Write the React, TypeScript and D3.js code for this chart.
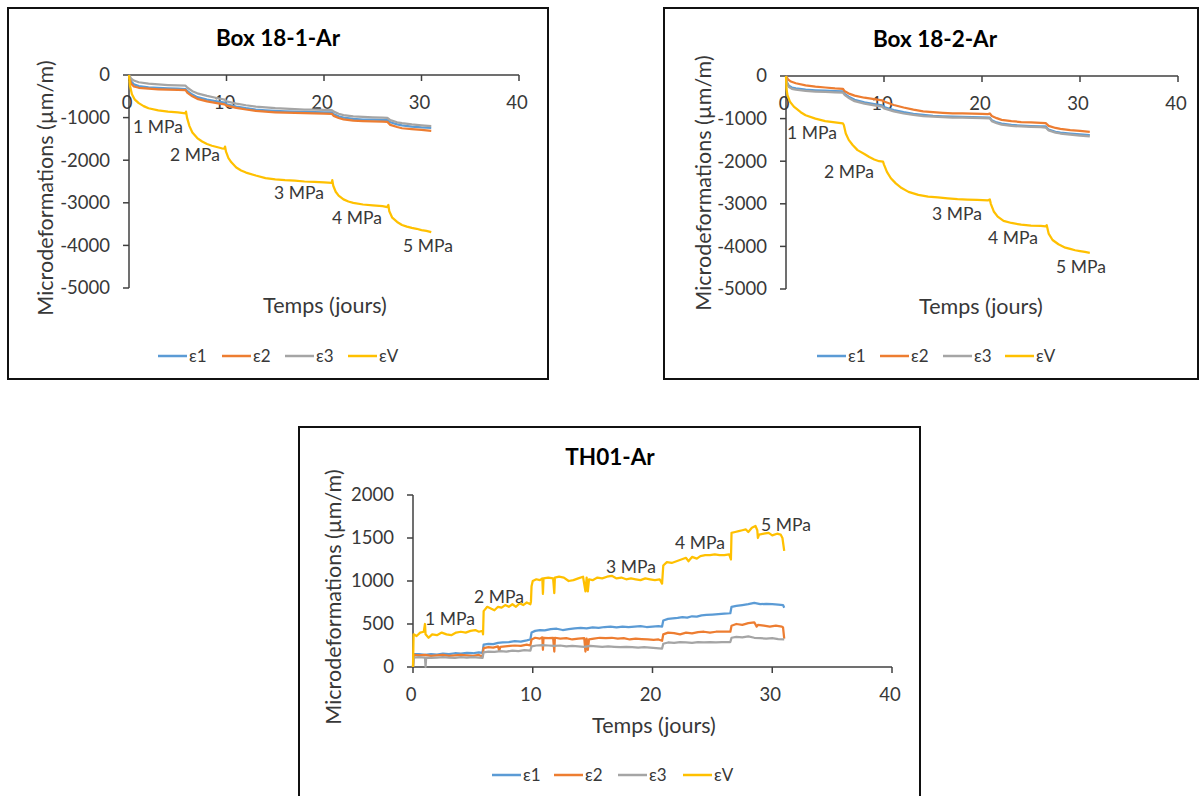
import React from "react";
import * as d3 from "d3";

// ---------- data (time in days, microdeformation in µm/m) ----------
const seriesNames = ["ε1", "ε2", "ε3", "εV"];
const seriesColors = ["#5B9BD5", "#ED7D31", "#A5A5A5", "#FFC000"];
const xTicks = [0, 10, 20, 30, 40];
const yTicksBox = [0, -1000, -2000, -3000, -4000, -5000];
const yTicksTH = [0, 500, 1000, 1500, 2000];
const stageLabels = ["1 MPa", "2 MPa", "3 MPa", "4 MPa", "5 MPa"];

const box1_e1: [number, number][] = [[0,0],[0.2,-150],[0.5,-220],[1,-260],[2,-290],[3,-305],[4,-315],[5,-320],[5.8,-330],[6,-380],[6.5,-460],[7,-520],[8,-580],[9,-620],[9.8,-650],[10,-690],[11,-740],[12,-780],[13,-810],[14,-830],[15,-845],[16,-855],[17,-860],[18,-865],[19,-870],[20,-875],[20.8,-880],[21,-920],[21.5,-970],[22,-1000],[23,-1030],[24,-1045],[25,-1050],[26,-1055],[26.5,-1060],[26.8,-1110],[27.5,-1160],[28,-1180],[29,-1210],[30,-1230],[31,-1240]];
const box1_e2: [number, number][] = [[0,0],[0.2,-200],[0.5,-270],[1,-300],[2,-320],[3,-335],[4,-345],[5,-350],[5.8,-355],[6,-420],[6.5,-500],[7,-560],[8,-620],[9,-660],[9.8,-690],[10,-720],[11,-770],[12,-810],[13,-840],[14,-860],[15,-875],[16,-885],[17,-890],[18,-895],[19,-900],[20,-905],[20.8,-910],[21,-960],[21.5,-1010],[22,-1040],[23,-1070],[24,-1080],[25,-1090],[26,-1095],[26.5,-1100],[26.8,-1170],[27.5,-1220],[28,-1250],[29,-1270],[30,-1290],[31,-1310]];
const box1_e3: [number, number][] = [[0,0],[0.2,-80],[0.5,-130],[1,-170],[2,-200],[3,-220],[4,-235],[5,-245],[5.8,-250],[6,-300],[6.5,-380],[7,-430],[8,-490],[9,-540],[9.8,-580],[10,-620],[11,-670],[12,-710],[13,-740],[14,-760],[15,-780],[16,-790],[17,-800],[18,-810],[19,-815],[20,-820],[20.8,-825],[21,-860],[21.5,-910],[22,-940],[23,-970],[24,-985],[25,-995],[26,-1000],[26.5,-1005],[26.8,-1060],[27.5,-1110],[28,-1130],[29,-1160],[30,-1180],[31,-1200]];
const box1_eV: [number, number][] = [[0,0],[0.1,-250],[0.3,-450],[0.6,-580],[1,-660],[1.5,-730],[2,-780],[3,-830],[4,-860],[5,-880],[5.8,-900],[5.85,-860],[5.95,-1000],[6.2,-1200],[6.5,-1350],[7,-1480],[7.5,-1560],[8,-1620],[8.5,-1660],[9,-1690],[9.5,-1720],[9.8,-1730],[9.85,-1680],[9.95,-1800],[10.2,-1950],[10.5,-2050],[11,-2170],[11.5,-2240],[12,-2290],[13,-2360],[14,-2420],[15,-2450],[16,-2470],[17,-2480],[18,-2500],[19,-2510],[20,-2520],[20.8,-2530],[20.85,-2470],[20.95,-2600],[21.2,-2740],[21.5,-2830],[22,-2920],[22.5,-2970],[23,-3000],[24,-3040],[25,-3060],[26,-3080],[26.5,-3100],[26.6,-3050],[26.7,-3200],[27,-3350],[27.5,-3450],[28,-3520],[28.5,-3560],[29,-3590],[29.5,-3610],[30,-3640],[30.5,-3660],[31,-3690]];

const box2_e1: [number, number][] = [[0,0],[0.1,-150],[0.3,-230],[0.6,-270],[1,-290],[2,-320],[3,-335],[4,-345],[5,-355],[5.8,-360],[6,-420],[6.5,-500],[7,-560],[8,-620],[9,-660],[9.8,-690],[10,-730],[11,-800],[12,-850],[13,-890],[14,-915],[15,-935],[16,-945],[17,-955],[18,-960],[19,-965],[20,-970],[20.8,-975],[21,-1040],[21.5,-1090],[22,-1120],[23,-1150],[24,-1165],[25,-1175],[26,-1180],[26.5,-1185],[26.8,-1260],[27.5,-1310],[28,-1330],[29,-1350],[30,-1370],[31,-1390]];
const box2_e2: [number, number][] = [[0,0],[0.2,-80],[0.5,-130],[1,-170],[2,-220],[3,-250],[4,-270],[5,-290],[5.8,-300],[6,-360],[6.5,-420],[7,-460],[8,-510],[9,-545],[9.8,-570],[10,-600],[11,-680],[12,-740],[13,-790],[14,-830],[15,-850],[16,-865],[17,-875],[18,-880],[19,-885],[20,-890],[20.6,-895],[20.8,-880],[21,-940],[21.5,-990],[22,-1030],[23,-1060],[24,-1080],[25,-1090],[26,-1100],[26.5,-1105],[26.8,-1170],[27.5,-1220],[28,-1240],[29,-1270],[30,-1290],[31,-1310]];
const box2_e3: [number, number][] = [[0,0],[0.1,-180],[0.3,-260],[0.6,-300],[1,-320],[2,-350],[3,-365],[4,-375],[5,-385],[5.8,-390],[6,-450],[6.5,-530],[7,-590],[8,-650],[9,-690],[9.8,-720],[10,-760],[11,-830],[12,-880],[13,-915],[14,-940],[15,-955],[16,-965],[17,-975],[18,-980],[19,-985],[20,-990],[20.8,-995],[21,-1060],[21.5,-1110],[22,-1140],[23,-1170],[24,-1185],[25,-1195],[26,-1200],[26.5,-1210],[26.8,-1280],[27.5,-1330],[28,-1350],[29,-1375],[30,-1400],[31,-1420]];
const box2_eV: [number, number][] = [[0,0],[0.05,-300],[0.15,-450],[0.4,-600],[0.8,-720],[1.5,-850],[2,-920],[3,-1000],[4,-1060],[5,-1090],[5.8,-1110],[5.9,-1150],[6.1,-1350],[6.4,-1500],[6.8,-1620],[7.3,-1740],[8,-1830],[8.5,-1900],[9,-1960],[9.5,-2000],[9.9,-2010],[10,-2080],[10.3,-2250],[10.7,-2400],[11.2,-2520],[11.8,-2630],[12.5,-2720],[13.5,-2790],[14.5,-2830],[15.5,-2850],[16.5,-2870],[17.5,-2890],[18.5,-2900],[19.5,-2910],[20.6,-2920],[20.8,-2900],[20.9,-3000],[21.2,-3180],[21.6,-3300],[22.2,-3400],[23,-3450],[24,-3490],[25,-3510],[26,-3520],[26.5,-3530],[26.6,-3500],[26.8,-3700],[27.2,-3850],[27.8,-3950],[28.5,-4030],[29,-4060],[29.5,-4090],[30,-4110],[30.5,-4130],[31,-4150]];

const th_e1: [number, number][] = [[0,0],[0.05,150],[0.5,150],[1,140],[1.5,150],[2,145],[2.5,155],[3,150],[3.5,160],[4,155],[4.5,165],[5,160],[5.5,170],[5.8,165],[5.9,260],[6.3,270],[6.7,265],[7.1,280],[7.5,285],[8,290],[8.5,300],[9,295],[9.5,310],[9.8,320],[9.9,400],[10.2,420],[10.6,430],[11,425],[11.5,440],[12,445],[12.5,430],[13,440],[13.5,450],[14,455],[14.5,450],[15,460],[15.5,455],[16,465],[16.5,470],[17,460],[17.5,470],[18,465],[18.5,470],[19,475],[19.5,465],[20,470],[20.5,475],[20.8,470],[20.9,540],[21.3,560],[21.7,565],[22.1,570],[22.5,580],[22.9,575],[23.3,590],[23.7,585],[24.1,600],[24.5,605],[25,610],[25.5,615],[26,620],[26.5,625],[26.6,700],[27,710],[27.5,720],[28,730],[28.5,745],[29,730],[29.5,735],[30,730],[30.5,725],[30.9,720],[31,690]];
const th_e2: [number, number][] = [[0,0],[0.05,140],[0.5,135],[1,140],[1.5,130],[2,135],[2.5,140],[3,130],[3.5,135],[4,140],[4.5,135],[5,130],[5.5,140],[5.8,120],[5.9,220],[6.3,230],[6.7,225],[7.1,240],[7.2,190],[7.3,235],[7.7,240],[8.1,245],[8.5,250],[9,245],[9.5,260],[9.8,250],[9.9,320],[10.2,340],[10.6,330],[10.8,345],[10.85,200],[10.9,340],[11.3,335],[11.7,340],[11.8,180],[11.85,340],[12.3,330],[12.8,335],[13.3,320],[13.8,330],[14.3,335],[14.4,180],[14.5,330],[14.6,200],[14.7,320],[15.1,330],[15.6,340],[16.1,335],[16.6,340],[17.1,330],[17.6,335],[18.1,320],[18.6,330],[19.1,325],[19.6,320],[20.1,315],[20.5,320],[20.8,305],[20.9,380],[21.3,400],[21.8,395],[22.3,380],[22.8,400],[23.3,390],[23.8,405],[24.3,410],[24.8,400],[25.3,410],[25.8,410],[26.5,410],[26.6,480],[27,500],[27.5,490],[28,510],[28.5,520],[28.7,470],[28.8,490],[29.3,480],[29.8,470],[30.3,480],[30.8,470],[30.9,460],[31,330]];
const th_e3: [number, number][] = [[0,0],[0.05,110],[0.5,115],[1.0,110],[1.05,0],[1.1,110],[1.5,105],[2,110],[2.5,115],[3,110],[3.5,105],[4,115],[4.5,110],[5,115],[5.5,110],[5.8,105],[5.9,170],[6.3,180],[6.8,175],[7.3,185],[7.8,180],[8.3,190],[8.8,185],[9.3,195],[9.8,190],[9.9,240],[10.3,250],[10.8,255],[11.3,250],[11.8,245],[12.3,250],[12.8,240],[13.3,245],[13.8,240],[14.3,235],[14.8,245],[15.3,240],[15.8,235],[16.3,240],[16.8,235],[17.3,230],[17.8,235],[18.3,230],[18.8,225],[19.3,230],[19.8,225],[20.3,220],[20.8,215],[20.9,270],[21.3,285],[21.8,280],[22.3,290],[22.8,285],[23.3,280],[23.8,290],[24.3,285],[24.8,290],[25.3,285],[25.8,290],[26.5,290],[26.6,340],[27,350],[27.5,345],[28,355],[28.5,340],[29,335],[29.5,330],[30,335],[30.5,325],[31,320]];
const th_eV: [number, number][] = [[0,0],[0.05,380],[0.3,360],[0.6,400],[0.9,410],[1.0,500],[1.05,380],[1.3,340],[1.6,380],[2.0,370],[2.4,400],[2.8,380],[3.2,370],[3.6,400],[4.0,410],[4.4,400],[4.8,420],[5.2,430],[5.5,410],[5.8,420],[5.85,380],[5.9,650],[6.2,700],[6.5,680],[6.8,660],[7.1,700],[7.4,690],[7.7,720],[8.0,700],[8.3,730],[8.6,700],[8.9,740],[9.2,720],[9.5,750],[9.8,730],[9.85,760],[9.9,940],[10.0,1000],[10.3,1020],[10.6,1010],[10.8,1030],[10.85,850],[10.9,1030],[11.3,1040],[11.7,1030],[11.8,860],[11.85,1040],[12.2,1050],[12.6,1040],[13.0,1000],[13.4,1010],[13.8,1030],[14.2,1050],[14.4,880],[14.5,1040],[14.6,880],[14.7,1020],[15.0,1010],[15.4,1040],[15.8,1030],[16.2,1050],[16.6,1060],[17.0,1030],[17.4,1040],[17.8,1020],[18.2,1030],[18.6,1020],[19.0,1010],[19.4,1030],[19.8,1020],[20.2,1010],[20.6,1020],[20.8,970],[20.9,1180],[21.2,1220],[21.6,1210],[22.0,1230],[22.4,1250],[22.8,1270],[23.0,1230],[23.3,1280],[23.7,1260],[24.0,1290],[24.4,1300],[24.8,1300],[25.2,1310],[25.6,1300],[26.0,1300],[26.4,1310],[26.55,1250],[26.6,1560],[26.9,1570],[27.2,1580],[27.5,1590],[27.8,1600],[28.0,1570],[28.3,1620],[28.6,1640],[28.75,1590],[28.8,1500],[28.9,1540],[29.3,1550],[29.7,1560],[30.0,1530],[30.4,1550],[30.7,1540],[30.85,1500],[31.0,1350]];

// ---------- layout ----------
const FONT = "Lato, 'Open Sans', sans-serif";
const TXT = "#383838";

type PanelCfg = {
  title: string;
  frame: [number, number, number, number];
  xRange: [number, number];
  yRange: [number, number];
  yDomain: [number, number];
  yTicks: number[];
  series: [number, number][][];
  titlePos: [number, number];
  yTitlePos: [number, number];
  xTitlePos: [number, number];
  legendY: number;
  legendX: number[];
  annots: [number, number][];
};

const panels: PanelCfg[] = [
  {
    title: "Box 18-1-Ar",
    frame: [8, 8, 540, 371],
    xRange: [129, 519],
    yRange: [288, 75],
    yDomain: [-5000, 0],
    yTicks: yTicksBox,
    series: [box1_e1, box1_e2, box1_e3, box1_eV],
    titlePos: [278, 46],
    yTitlePos: [45, 188],
    xTitlePos: [325, 313],
    legendY: 356,
    legendX: [158, 222, 285, 348],
    annots: [[158, 127], [195, 155], [299, 193], [357, 218], [428, 246]],
  },
  {
    title: "Box 18-2-Ar",
    frame: [664, 8, 534, 371],
    xRange: [786, 1178],
    yRange: [289, 76],
    yDomain: [-5000, 0],
    yTicks: yTicksBox,
    series: [box2_e1, box2_e2, box2_e3, box2_eV],
    titlePos: [935, 47],
    yTitlePos: [703, 183],
    xTitlePos: [981, 314],
    legendY: 356,
    legendX: [817, 880, 943, 1005],
    annots: [[812, 133], [849, 172], [957, 214], [1013, 238], [1081, 267]],
  },
  {
    title: "TH01-Ar",
    frame: [299, 427, 621, 400],
    xRange: [413, 892],
    yRange: [667, 495],
    yDomain: [0, 2000],
    yTicks: yTicksTH,
    series: [th_e1, th_e2, th_e3, th_eV],
    titlePos: [610, 465],
    yTitlePos: [333, 597],
    xTitlePos: [654, 733],
    legendY: 775,
    legendX: [492, 554, 618, 683],
    annots: [[450, 619], [499, 597], [631, 567], [700, 543], [786, 525]],
  },
];

function Panel({ p }: { p: PanelCfg }) {
  const x = d3.scaleLinear().domain([0, 40]).range(p.xRange);
  const y = d3.scaleLinear().domain(p.yDomain).range(p.yRange);
  const line = d3
    .line<[number, number]>()
    .x((d) => x(d[0]))
    .y((d) => y(d[1]));
  const x0 = x(0);
  const yZero = y(0);
  const [fx, fy, fw, fh] = p.frame;
  return (
    <g>
      <rect x={fx} y={fy} width={fw} height={fh} fill="#fff" stroke="#111" strokeWidth={2} />
      <text x={p.titlePos[0]} y={p.titlePos[1]} textAnchor="middle" fontFamily={FONT} fontWeight={700} fontSize={22.5} fill="#000">
        {p.title}
      </text>
      {/* y axis */}
      <line x1={x0} x2={x0} y1={y(p.yDomain[0])} y2={y(p.yDomain[1])} stroke="#404040" strokeWidth={1.5} />
      {p.yTicks.map((t) => (
        <g key={"y" + t}>
          <line x1={x0 - 6} x2={x0} y1={y(t)} y2={y(t)} stroke="#404040" strokeWidth={1.5} />
          <text x={x0 - 19} y={y(t)} dy="0.35em" textAnchor="end" fontFamily={FONT} fontSize={18.5} fill={TXT}>
            {t}
          </text>
        </g>
      ))}
      {/* x axis at value 0 */}
      <line x1={x(0)} x2={x(40)} y1={yZero} y2={yZero} stroke="#404040" strokeWidth={1.5} />
      {xTicks.map((t) => (
        <g key={"x" + t}>
          <line x1={x(t)} x2={x(t)} y1={yZero} y2={yZero + 6} stroke="#404040" strokeWidth={1.5} />
          <text x={x(t) - 2} y={yZero + 28} dy="0.35em" textAnchor="middle" fontFamily={FONT} fontSize={18.5} fill={TXT}>
            {t}
          </text>
        </g>
      ))}
      {/* series */}
      {p.series.map((s, i) => (
        <path key={"s" + i} d={line(s) || ""} fill="none" stroke={seriesColors[i]} strokeWidth={2.25} strokeLinejoin="round" />
      ))}
      {/* stage annotations */}
      {p.annots.map((a, i) => (
        <text key={"a" + i} x={a[0]} y={a[1]} dy="0.35em" textAnchor="middle" fontFamily={FONT} fontSize={17.5} fill={TXT}>
          {stageLabels[i]}
        </text>
      ))}
      {/* axis titles */}
      <text
        transform={`translate(${p.yTitlePos[0]},${p.yTitlePos[1]}) rotate(-90)`}
        textAnchor="middle"
        dy="0.35em"
        fontFamily={FONT}
        fontSize={21.5}
        fill={TXT}
      >
        Microdeformations (µm/m)
      </text>
      <text x={p.xTitlePos[0]} y={p.xTitlePos[1]} textAnchor="middle" fontFamily={FONT} fontSize={21.5} fill={TXT}>
        Temps (jours)
      </text>
      {/* legend */}
      {seriesNames.map((n, i) => (
        <g key={"l" + i}>
          <line x1={p.legendX[i]} x2={p.legendX[i] + 29} y1={p.legendY} y2={p.legendY} stroke={seriesColors[i]} strokeWidth={2.5} />
          <text x={p.legendX[i] + 31} y={p.legendY} dy="0.35em" fontFamily={FONT} fontSize={17} fill={TXT}>
            {n}
          </text>
        </g>
      ))}
    </g>
  );
}

export default function App() {
  return (
    <svg width={1200} height={796} style={{ position: "absolute", left: 0, top: 0, background: "#fff" }}>
      <rect x={0} y={0} width={1200} height={796} fill="#fff" />
      {panels.map((p, i) => (
        <Panel key={i} p={p} />
      ))}
    </svg>
  );
}
